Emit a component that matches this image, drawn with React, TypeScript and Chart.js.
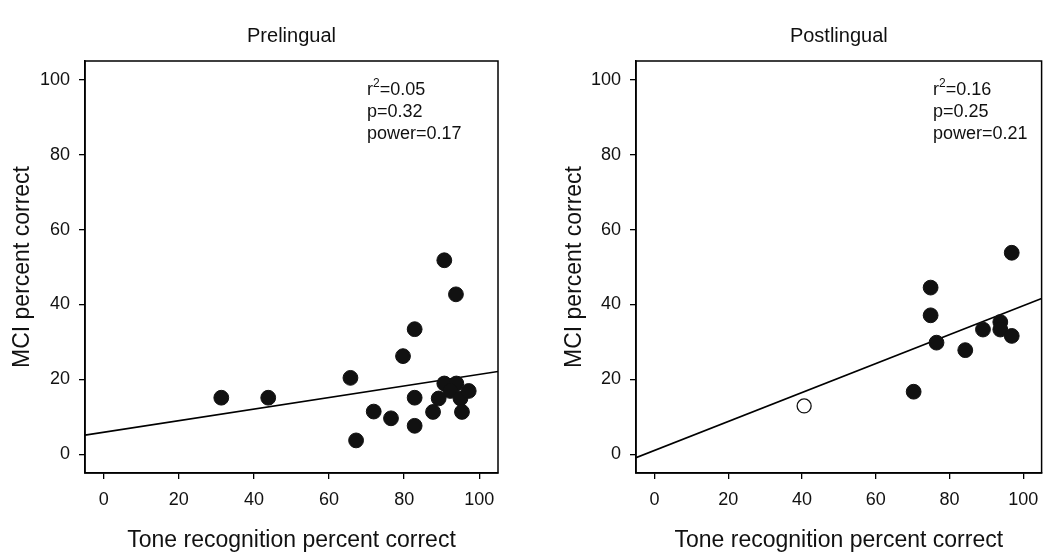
import React, { useEffect, useRef } from "react";
import { Chart, registerables } from "chart.js";

Chart.register(...registerables);

const FONT = '"Liberation Sans", Arial, Helvetica, sans-serif';

const tickValues = [0, 20, 40, 60, 80, 100];

// Prelingual panel
const preTone = [90.7, 93.8, 82.8, 79.7, 65.7, 31.3, 43.8, 71.9, 76.5, 67.2, 82.8, 82.8, 87.7, 89.2, 90.7, 93.9, 92.3, 95.0, 95.4, 97.2];
const preMci = [51.8, 42.7, 33.4, 26.2, 20.4, 15.1, 15.1, 11.4, 9.6, 3.7, 15.1, 7.6, 11.3, 14.9, 18.9, 18.9, 16.9, 14.9, 11.3, 16.9];
const preFitX = [-5, 105];
const preFitY = [5.1, 22.1];
const preStats = ["0.05", "0.32", "0.17"];

// Postlingual panel
const postTone = [96.9, 74.9, 74.9, 76.5, 84.3, 89.1, 93.8, 93.8, 96.9, 70.3];
const postMci = [53.8, 44.5, 37.1, 29.8, 27.8, 33.3, 35.3, 33.3, 31.6, 16.7];
const postOpenTone = [40.6];
const postOpenMci = [12.9];
const postFitX = [-5, 105];
const postFitY = [-0.9, 41.6];
const postStats = ["0.16", "0.25", "0.21"];

const toPts = (xs: number[], ys: number[]) => xs.map((x, i) => ({ x, y: ys[i] }));

const framePlugin = {
  id: "frame",
  afterDraw(chart: any, _args: any, opts: any) {
    const { ctx, chartArea } = chart;
    const { left, top, right, bottom } = chartArea;
    ctx.save();
    ctx.strokeStyle = "#000";
    ctx.lineWidth = 1.5;
    ctx.strokeRect(left, top, right - left, bottom - top);
    const s: string[] = opts.stats;
    const x = left + opts.dx;
    ctx.fillStyle = "#111";
    ctx.textAlign = "left";
    ctx.textBaseline = "alphabetic";
    ctx.font = `18px ${FONT}`;
    ctx.fillText("r", x, top + 34);
    const rw = ctx.measureText("r").width;
    ctx.font = `12px ${FONT}`;
    ctx.fillText("2", x + rw, top + 26);
    const w2 = ctx.measureText("2").width;
    ctx.font = `18px ${FONT}`;
    ctx.fillText("=" + s[0], x + rw + w2, top + 34);
    ctx.fillText("p=" + s[1], x, top + 56);
    ctx.fillText("power=" + s[2], x, top + 78);
    ctx.restore();
  },
};

type PanelProps = {
  title: string;
  tone: number[];
  mci: number[];
  openTone: number[];
  openMci: number[];
  fitX: number[];
  fitY: number[];
  stats: string[];
  padLeft: number;
  yWidth: number;
  padRight: number;
  dx: number;
};

function Panel(p: PanelProps) {
  const ref = useRef<HTMLCanvasElement | null>(null);
  useEffect(() => {
    if (!ref.current) return;
    const chart = new Chart(ref.current, {
      type: "scatter",
      data: {
        datasets: [
          {
            data: toPts(p.tone, p.mci),
            backgroundColor: "#111",
            borderColor: "#111",
            borderWidth: 1,
            pointRadius: 7.4,
          } as any,
          {
            data: toPts(p.openTone, p.openMci),
            backgroundColor: "#fff",
            borderColor: "#111",
            borderWidth: 1.3,
            pointRadius: 7,
          } as any,
          {
            type: "line",
            data: toPts(p.fitX, p.fitY),
            borderColor: "#000",
            borderWidth: 1.6,
            pointRadius: 0,
            fill: false,
          } as any,
        ],
      },
      options: {
        responsive: false,
        animation: false,
        devicePixelRatio: 1,
        layout: { padding: { left: p.padLeft, right: p.padRight, top: 0, bottom: 0 } },
        plugins: {
          legend: { display: false },
          tooltip: { enabled: false },
          title: {
            display: true,
            fullSize: false,
            text: p.title,
            color: "#111",
            font: { family: FONT, size: 20, weight: "normal" },
            padding: { top: 24, bottom: 13 },
          },
          frame: { stats: p.stats, dx: p.dx },
        } as any,
        scales: {
          x: {
            type: "linear",
            min: -5,
            max: 105,
            afterBuildTicks: (s: any) => {
              s.ticks = tickValues.map((v) => ({ value: v }));
            },
            afterFit: (s: any) => {
              s.height = 81;
            },
            grid: { display: true, drawOnChartArea: false, drawTicks: true, tickLength: 6, color: "#000", lineWidth: 1.3 },
            border: { display: true, color: "#000", width: 1.5 },
            ticks: { color: "#111", font: { family: FONT, size: 18 }, padding: 10, maxRotation: 0 },
            title: {
              display: true,
              text: "Tone recognition percent correct",
              color: "#111",
              font: { family: FONT, size: 23 },
              padding: { top: 0, bottom: 0 },
            },
          },
          y: {
            type: "linear",
            min: -5,
            max: 105,
            afterBuildTicks: (s: any) => {
              s.ticks = tickValues.map((v) => ({ value: v }));
            },
            afterFit: (s: any) => {
              s.width = p.yWidth;
            },
            grid: { display: true, drawOnChartArea: false, drawTicks: true, tickLength: 6, color: "#000", lineWidth: 1.3 },
            border: { display: true, color: "#000", width: 1.5 },
            ticks: { color: "#111", font: { family: FONT, size: 18 }, padding: 9 },
            title: {
              display: true,
              text: "MCI percent correct",
              color: "#111",
              font: { family: FONT, size: 23 },
              padding: { top: 9, bottom: 0 },
            },
          },
        },
      },
      plugins: [framePlugin as any],
    });
    return () => chart.destroy();
  }, []);
  return <canvas ref={ref} width={525} height={554} style={{ display: "block", width: 525, height: 554 }} />;
}

export default function App() {
  return (
    <div style={{ position: "absolute", left: 0, top: 0, width: 1050, height: 554, display: "flex", background: "#fff" }}>
      <Panel
        title="Prelingual"
        tone={preTone}
        mci={preMci}
        openTone={[]}
        openMci={[]}
        fitX={preFitX}
        fitY={preFitY}
        stats={preStats}
        padLeft={0}
        yWidth={85}
        padRight={27}
        dx={282}
      />
      <Panel
        title="Postlingual"
        tone={postTone}
        mci={postMci}
        openTone={postOpenTone}
        openMci={postOpenMci}
        fitX={postFitX}
        fitY={postFitY}
        stats={postStats}
        padLeft={27}
        yWidth={84}
        padRight={1}
        dx={297}
      />
    </div>
  );
}
